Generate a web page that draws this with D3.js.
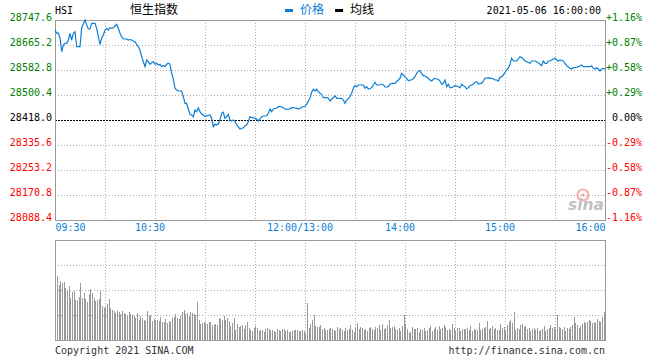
<!DOCTYPE html>
<html>
<head>
<meta charset="utf-8">
<script src="https://cdn.jsdelivr.net/npm/d3@7/dist/d3.min.js"></script>
<style>
  html, body { margin: 0; padding: 0; background: #fff; }
  svg { display: block; }
  text { font-family: "DejaVu Sans Mono", "Liberation Mono", monospace; font-size: 10px; }
</style>
</head>
<body>
<svg id="chart" width="660" height="360"></svg>
<script>
// ---------------- DATA ----------------
const symbol = "HSI";
const indexName = "恒生指数";
const legendNames = ["价格", "均线"];
const stamp = "2021-05-06 16:00:00";
const prevClose = 28418.0;

// price per trading minute since 09:30 (lunch break removed), 0..330
const prices = [
28714.6,28703.8,28704.8,28688.3,28643.1,28665.2,28670.8,28670.8,28681.7,28703.8,
28681.7,28703.8,28709.0,28659.6,28659.6,28659.6,28721.2,28734.4,28747.6,28731.1,
28717.9,28717.9,28736.7,28736.7,28736.7,28720.2,28692.6,28667.5,28687.3,28698.2,
28714.6,28720.2,28714.6,28722.2,28720.2,28722.2,28727.8,28733.4,28720.2,28703.8,
28692.6,28685.0,28685.0,28685.0,28681.7,28683.3,28681.7,28678.4,28676.1,28667.5,
28659.6,28648.7,28626.6,28610.2,28593.7,28615.8,28610.2,28601.6,28606.9,28610.2,
28601.6,28604.9,28599.3,28601.6,28593.7,28597.6,28593.7,28601.6,28604.9,28601.6,
28571.9,28553.1,28522.5,28516.9,28513.6,28513.6,28513.6,28494.8,28473.0,28473.0,
28454.3,28436.8,28434.5,28428.9,28451.0,28445.4,28458.5,28445.4,28437.8,28434.5,
28428.9,28432.2,28432.8,28434.5,28423.6,28395.9,28403.8,28401.5,28404.8,28418.0,
28440.1,28443.4,28423.6,28428.9,28436.8,28418.0,28414.7,28418.0,28412.4,28401.5,
28395.9,28388.3,28390.0,28392.6,28399.2,28401.5,28412.4,28428.9,28426.9,28425.6,
28423.6,28421.3,28414.7,28421.3,28428.9,28431.2,28431.2,28432.2,28440.1,28454.3,
28445.4,28454.3,28455.9,28456.6,28461.8,28461.8,28460.8,28458.5,28454.3,28453.3,
28453.6,28454.3,28458.5,28458.5,28457.6,28456.6,28454.3,28456.6,28459.9,28461.8,
28463.2,28469.7,28480.6,28489.5,28509.3,28519.2,28513.6,28519.2,28511.3,28506.0,
28502.7,28491.5,28491.5,28491.5,28489.5,28480.6,28487.2,28491.5,28498.1,28489.5,
28489.5,28489.5,28489.5,28483.9,28473.0,28483.9,28489.5,28494.8,28506.0,28522.5,
28531.1,28527.8,28533.4,28533.4,28533.4,28533.4,28522.5,28527.8,28520.2,28521.8,
28524.5,28533.4,28542.3,28533.4,28533.4,28533.4,28535.7,28533.4,28526.8,28526.8,
28527.8,28535.7,28539.0,28539.0,28539.0,28544.9,28549.8,28555.4,28571.9,28566.3,
28560.7,28555.4,28547.5,28549.8,28549.8,28554.8,28560.7,28571.9,28579.5,28580.5,
28571.9,28564.0,28563.0,28559.7,28555.4,28549.8,28546.5,28552.1,28555.4,28553.1,
28552.1,28546.5,28535.7,28539.0,28549.8,28527.8,28535.7,28524.5,28524.5,28527.8,
28531.1,28530.1,28527.8,28524.5,28535.7,28531.1,28527.8,28520.2,28524.5,28531.1,
28533.4,28536.7,28542.3,28544.2,28535.7,28539.0,28539.0,28546.5,28555.4,28556.4,
28557.4,28555.4,28555.4,28553.1,28549.8,28549.8,28546.5,28558.7,28560.7,28566.3,
28575.2,28582.8,28589.4,28602.6,28621.4,28612.5,28612.5,28612.5,28619.1,28626.6,
28624.0,28619.1,28612.5,28610.2,28607.5,28604.9,28612.5,28612.5,28612.5,28610.2,
28605.9,28601.6,28597.0,28612.5,28604.9,28604.9,28612.5,28612.5,28615.8,28619.1,
28621.4,28615.8,28612.5,28615.8,28614.1,28612.5,28604.9,28597.0,28592.7,28588.4,
28586.1,28590.4,28590.4,28592.0,28593.7,28597.0,28599.3,28593.7,28593.7,28593.7,
28593.7,28593.7,28597.0,28588.4,28586.1,28590.4,28586.1,28579.5,28586.1,28588.4,
28585.1
];

// per-minute volume (relative units, panel top = 100)
const volumes = [
64,55,59,57,58,52,50,54,42,48,
49,40,40,43,57,42,47,41,38,46,
51,47,42,39,40,41,49,34,32,33,
36,41,32,30,29,27,29,28,26,29,
27,26,25,28,26,25,24,22,27,20,
24,22,20,19,29,24,25,19,21,20,
20,19,23,18,18,21,17,19,18,22,
23,26,22,21,24,28,30,26,27,24,
28,27,26,25,38,20,16,17,18,17,
16,18,18,15,15,16,15,22,21,20,
24,20,22,19,14,17,22,10,16,13,
14,15,11,15,18,12,10,9,12,14,
12,9,10,10,8,11,12,11,10,10,
9,8,11,10,9,11,11,9,10,8,
8,9,10,10,10,9,9,10,9,7,
37,12,16,20,25,14,13,13,15,11,
12,10,10,11,12,11,10,9,13,11,
12,10,9,12,10,11,15,10,8,12,
17,11,13,12,10,11,9,12,13,11,
10,13,12,15,10,16,11,12,15,20,
12,13,14,11,10,12,9,14,25,16,
11,7,8,13,11,11,12,8,11,10,
12,9,10,12,14,9,11,13,10,14,
11,12,15,13,10,11,10,16,12,9,
12,12,9,11,11,11,12,10,14,9,
11,10,10,17,10,11,12,13,19,11,
12,14,11,12,10,10,16,12,13,10,
15,18,20,17,28,10,12,11,15,16,
13,14,11,12,9,11,12,10,12,9,
10,11,14,9,11,12,15,12,13,11,
25,13,12,11,13,9,12,11,13,15,
23,17,15,12,14,16,18,17,18,20,
19,17,18,17,21,19,18,23,28,26
];

const priceTicks = [28747.6, 28665.2, 28582.8, 28500.4, 28418.0, 28335.6, 28253.2, 28170.8, 28088.4];
const pctTicks = ["+1.16%", "+0.87%", "+0.58%", "+0.29%", "0.00%", "-0.29%", "-0.58%", "-0.87%", "-1.16%"];
const timeTickMinutes = [0, 60, 150, 210, 270, 330];
const timeTickLabels = ["09:30", "10:30", "12:00/13:00", "14:00", "15:00", "16:00"];
const volGridValues = [25, 50, 75];
const copyright = "Copyright 2021 SINA.COM";
const siteUrl = "http://finance.sina.com.cn";

// ---------------- DRAW ----------------
const svg = d3.select("#chart");
const L = 55, R = 605, T = 20, B = 220, VT = 240, VB = 340;
const GRID = "#aaaaaa", AXIS = "#999999";
const BLUE = "#0c7fd4", GREEN = "#008000", RED = "#ff0000";

const x = d3.scaleLinear().domain([0, 330]).range([L, R]);
const y = d3.scaleLinear().domain([priceTicks[8], priceTicks[0]]).range([B, T]);
const yv = d3.scaleLinear().domain([0, 100]).range([VB, VT]);

const gridMinutes = d3.range(30, 330, 30);

// ---- price panel grid
const g = svg.append("g");
g.selectAll("line.vg").data(gridMinutes).join("line")
  .attr("x1", d => Math.round(x(d)) + 0.5).attr("x2", d => Math.round(x(d)) + 0.5)
  .attr("y1", T).attr("y2", B)
  .attr("stroke", GRID).attr("stroke-dasharray", "1,2");
g.selectAll("line.hg").data(priceTicks.filter(d => d !== prevClose && d !== priceTicks[0] && d !== priceTicks[8])).join("line")
  .attr("x1", L).attr("x2", R)
  .attr("y1", d => Math.round(y(d)) + 0.5).attr("y2", d => Math.round(y(d)) + 0.5)
  .attr("stroke", GRID).attr("stroke-dasharray", "1,2");
// zero line
g.append("line")
  .attr("x1", L).attr("x2", R)
  .attr("y1", Math.round(y(prevClose)) + 0.5).attr("y2", Math.round(y(prevClose)) + 0.5)
  .attr("stroke", "#000").attr("stroke-dasharray", "2,1");
// frame
g.append("rect").attr("x", L + 0.5).attr("y", T + 0.5).attr("width", R - L).attr("height", B - T)
  .attr("fill", "none").attr("stroke", AXIS);

// ---- left axis labels
const colorFor = v => v > prevClose ? GREEN : (v < prevClose ? RED : "#000");
const leftAxis = d3.axisLeft(y).tickValues(priceTicks).tickSize(0).tickPadding(3).tickFormat(d3.format(".1f"));
const la = svg.append("g").attr("transform", `translate(${L},0)`).call(leftAxis);
la.select(".domain").remove();
la.selectAll("text").attr("fill", d => colorFor(d)).attr("dy", "0.05em")
  .style("font-family", '"DejaVu Sans Mono", monospace').style("font-size", "10px");

// ---- right axis labels
const rightAxis = d3.axisRight(y).tickValues(priceTicks).tickSize(0).tickPadding(0)
  .tickFormat((d, i) => pctTicks[i]);
const ra = svg.append("g").attr("transform", `translate(642,0)`).call(rightAxis);
ra.select(".domain").remove();
ra.selectAll("text").attr("fill", d => colorFor(d)).attr("text-anchor", "end").attr("dy", "0.05em")
  .style("font-family", '"DejaVu Sans Mono", monospace').style("font-size", "10px");

// ---- time labels
const bx = d3.axisBottom(x).tickValues(timeTickMinutes).tickSize(0).tickPadding(0)
  .tickFormat((d, i) => timeTickLabels[i]);
const ta = svg.append("g").attr("transform", `translate(0,${B + 4})`).call(bx);
ta.select(".domain").remove();
ta.selectAll(".tick text")
  .attr("fill", BLUE).attr("y", 0).attr("dy", "0.7em")
  .attr("text-anchor", (d, i) => i === 0 ? "start" : (i === timeTickMinutes.length - 1 ? "end" : "middle"))
  .attr("x", (d, i) => i === 0 || i === timeTickMinutes.length - 1 ? 0 : -5.5)
  .style("font-family", '"DejaVu Sans Mono", monospace').style("font-size", "10px");

// ---- price line
const line = d3.line().x((d, i) => x(i)).y(d => y(d));
svg.append("path").datum(prices)
  .attr("d", line).attr("fill", "none").attr("stroke", BLUE).attr("stroke-width", 1.2);

// ---- volume panel
const vg = svg.append("g");
vg.selectAll("line.vvg").data(gridMinutes).join("line")
  .attr("x1", d => Math.round(x(d)) + 0.5).attr("x2", d => Math.round(x(d)) + 0.5)
  .attr("y1", VT).attr("y2", VB)
  .attr("stroke", GRID).attr("stroke-dasharray", "1,2");
vg.selectAll("line.vhg").data(volGridValues).join("line")
  .attr("x1", L).attr("x2", R)
  .attr("y1", d => Math.round(yv(d)) + 0.5).attr("y2", d => Math.round(yv(d)) + 0.5)
  .attr("stroke", GRID).attr("stroke-dasharray", "1,2");
vg.selectAll("rect.bar").data(volumes).join("rect")
  .attr("x", (d, i) => Math.round(x(i) + 2)).attr("width", 1)
  .attr("y", d => yv(d)).attr("height", d => yv(0) - yv(d))
  .attr("fill", "#999999");
vg.append("rect").attr("x", L + 0.5).attr("y", VT + 0.5).attr("width", R - L).attr("height", VB - VT)
  .attr("fill", "none").attr("stroke", AXIS);

// ---- header
svg.append("text").attr("x", L).attr("y", 10).attr("dy", "0.35em").attr("fill", "#000").text(symbol);
svg.append("text").attr("x", 130).attr("y", 10).attr("dy", "0.35em").attr("fill", "#000")
  .style("font-family", '"Noto Sans CJK SC", sans-serif').style("font-size", "12px").text(indexName);
svg.append("rect").attr("x", 285).attr("y", 9).attr("width", 8).attr("height", 3).attr("fill", BLUE);
svg.append("text").attr("x", 300).attr("y", 10).attr("dy", "0.35em").attr("fill", BLUE)
  .style("font-family", '"Noto Sans CJK SC", sans-serif').style("font-size", "12px").text(legendNames[0]);
svg.append("rect").attr("x", 335).attr("y", 9).attr("width", 8).attr("height", 3).attr("fill", "#000");
svg.append("text").attr("x", 350).attr("y", 10).attr("dy", "0.35em").attr("fill", "#000")
  .style("font-family", '"Noto Sans CJK SC", sans-serif').style("font-size", "12px").text(legendNames[1]);
svg.append("text").attr("x", 601).attr("y", 10).attr("dy", "0.35em").attr("text-anchor", "end")
  .attr("fill", "#000").text(stamp);

// ---- watermark
const wm = svg.append("g").attr("opacity", 0.6);
wm.append("circle").attr("cx", 583).attr("cy", 195).attr("r", 5.5).attr("fill", "none").attr("stroke", "#f08080").attr("stroke-width", 2.2);
wm.append("circle").attr("cx", 583).attr("cy", 195).attr("r", 1.8).attr("fill", "#f08080");
wm.append("text").attr("x", 568).attr("y", 210).attr("fill", "#999")
  .attr("textLength", 36).attr("lengthAdjust", "spacingAndGlyphs")
  .style("font-family", "'DejaVu Sans', sans-serif").style("font-size", "15px")
  .style("font-style", "italic").style("font-weight", "bold").text("sina");

// ---- footer
svg.append("text").attr("x", L).attr("y", 350).attr("dy", "0.35em").attr("fill", "#333").text(copyright);
svg.append("text").attr("x", R).attr("y", 350).attr("dy", "0.35em").attr("text-anchor", "end").attr("fill", "#333").text(siteUrl);
</script>
</body>
</html>
